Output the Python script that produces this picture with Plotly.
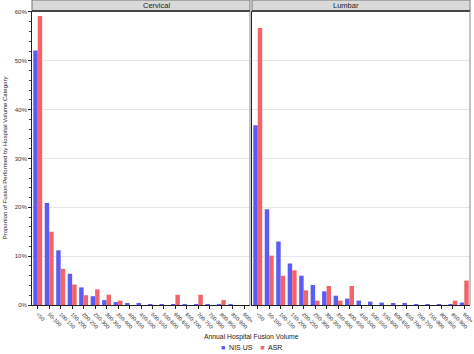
import plotly.graph_objects as go
from plotly.subplots import make_subplots

categories = ["<50", "50-100", "100-150", "150-200", "200-250", "250-300", "300-350",
              "350-400", "400-450", "450-500", "500-550", "550-600", "600-650",
              "650-700", "700-750", "750-800", "800-850", "850-900", "900+"]

cervical_nis = [52.1, 20.9, 11.2, 6.4, 3.6, 1.8, 1.0, 0.6, 0.4, 0.3, 0.15, 0.1, 0.05,
                0.03, 0.02, 0.02, 0.01, 0.01, 0.0]
cervical_asr = [59.2, 15.0, 7.4, 4.2, 2.0, 3.2, 2.1, 0.9, 0.0, 0.0, 0.0, 0.0, 2.1,
                0.0, 2.1, 0.0, 1.0, 0.0, 0.0]
lumbar_nis = [36.8, 19.6, 13.0, 8.5, 6.0, 4.1, 2.8, 1.9, 1.3, 0.9, 0.7, 0.5, 0.4,
              0.3, 0.2, 0.15, 0.1, 0.05, 0.5]
lumbar_asr = [56.7, 10.1, 6.0, 7.1, 3.0, 0.9, 3.9, 0.9, 3.9, 0.0, 0.0, 0.0, 0.0,
              0.0, 0.0, 0.0, 0.0, 0.9, 5.0]

panels = ["Cervical", "Lumbar"]
series_names = ["NIS US", "ASR"]
colors = ["#5c5cf2", "#f2646a"]

FONT = "Liberation Sans, Arial, sans-serif"

fig = make_subplots(rows=1, cols=2, shared_yaxes=False, horizontal_spacing=0.0046)

data = [(cervical_nis, cervical_asr), (lumbar_nis, lumbar_asr)]
for ci, (nis, asr) in enumerate(data):
    for si, vals in enumerate([nis, asr]):
        fig.add_trace(go.Bar(x=categories, y=vals, name=series_names[si],
                             marker=dict(color=colors[si], line=dict(width=0)),
                             legendgroup=series_names[si], showlegend=False),
                      row=1, col=ci + 1)

fig.update_layout(
    barmode="group", bargap=0.22, bargroupgap=0.0,
    width=474, height=354,
    margin=dict(l=32, r=4, t=11, b=49, autoexpand=False),
    plot_bgcolor="white", paper_bgcolor="white",
    font=dict(family=FONT, size=6, color="#222"),
    showlegend=False,
)

for i in (1, 2):
    fig.update_xaxes(row=1, col=i, tickangle=45, tickfont=dict(size=5.5, color="#333"),
                     showline=True, linecolor="#222", linewidth=1,
                     ticks="outside", ticklen=3, tickcolor="#222",
                     showgrid=False, mirror=False, automargin=False)
    fig.update_yaxes(row=1, col=i, range=[0, 60.2], dtick=10, ticksuffix="%",
                     showgrid=True, gridcolor="#e6e6e6", gridwidth=1,
                     showline=True, linecolor="#222", linewidth=1, zeroline=False,
                     automargin=False)

fig.update_yaxes(row=1, col=1, ticks="outside", ticklen=3, tickcolor="#222",
                 tickfont=dict(size=6, color="#333"),
                 minor=dict(ticks="outside", ticklen=2, dtick=2, tickcolor="#444"),
                 title=dict(text="Proportion of Fusion Performed by Hospital Volume Category",
                            font=dict(size=6, color="#222"), standoff=6))
fig.update_yaxes(row=1, col=2, showticklabels=False, ticks="")

# Strips and panel right borders
doms = [fig.layout.xaxis.domain, fig.layout.xaxis2.domain]
strip_h = 11 / 294
for p, d in zip(panels, doms):
    fig.add_shape(type="rect", xref="paper", yref="paper", x0=d[0], x1=d[1],
                  y0=1, y1=1 + strip_h, fillcolor="#d9d9d9",
                  line=dict(color="#777", width=1), layer="above")
    fig.add_shape(type="line", xref="paper", yref="paper", x0=d[0], x1=d[1],
                  y0=1, y1=1, line=dict(color="#222", width=1.5))
    fig.add_shape(type="line", xref="paper", yref="paper", x0=d[1], x1=d[1],
                  y0=0, y1=1, line=dict(color="#888", width=1))
    fig.add_annotation(text=p, xref="paper", yref="paper", x=(d[0] + d[1]) / 2,
                       y=1 + strip_h / 2, showarrow=False, yanchor="middle",
                       font=dict(size=7.5, color="#222"))

fig.add_annotation(text="Annual Hospital Fusion Volume", xref="paper", yref="paper",
                   x=0.5, y=-0.109, yanchor="middle", showarrow=False,
                   font=dict(size=6.8, color="#222"))

# Legend (text-based)
legend_text = "    ".join(
    f"<span style='color:{c}'>■</span>  {n}" for n, c in zip(series_names, colors))
fig.add_annotation(text=legend_text, xref="paper", yref="paper",
                   x=0.5, y=-0.146, yanchor="middle", showarrow=False,
                   font=dict(size=7, color="#222"))

fig.write_html("out.html")
